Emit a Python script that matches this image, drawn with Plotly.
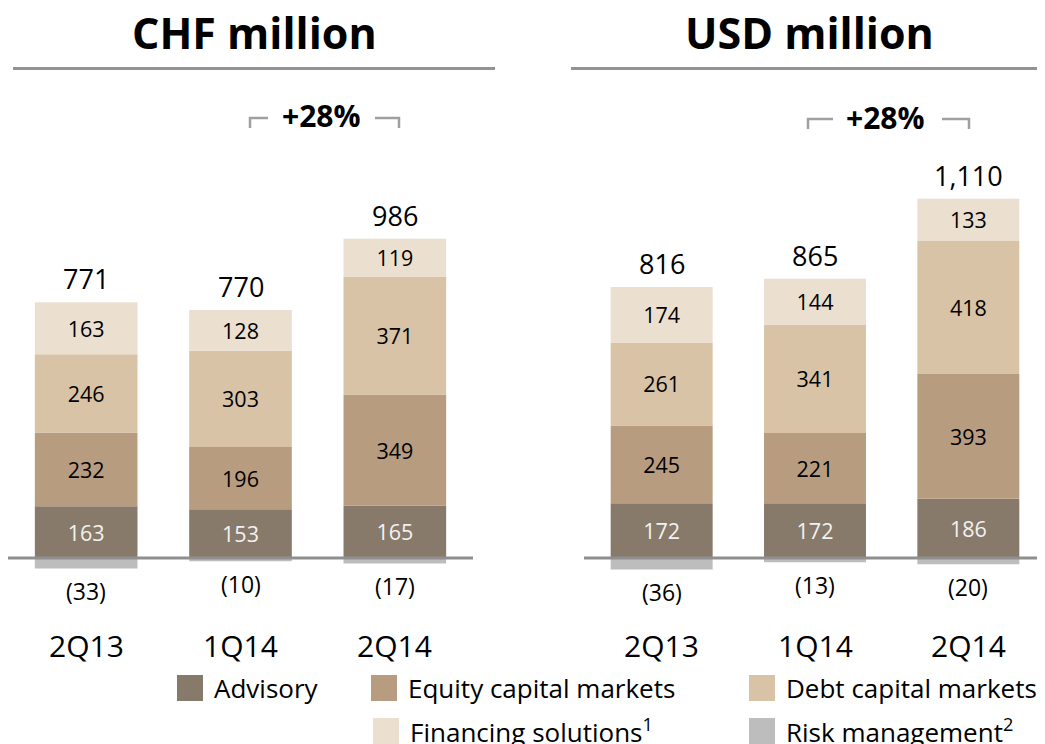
import plotly.graph_objects as go

# page body has an 8px margin: figure placed at (8, 8) in a 1045x744 window
OFF = 8
W, H = 1045 - OFF, 744 - OFF

categories = ["2Q13", "1Q14", "2Q14"]
series_names = ["Advisory", "Equity capital markets", "Debt capital markets",
                "Financing solutions<sup>1</sup>", "Risk management<sup>2</sup>"]
colors = ["#877A6B", "#B89C80", "#D8C3A6", "#EBDFD0", "#BDBDBD"]
text_colors = ["#F2F2F2", "#000000", "#000000", "#000000", "#000000"]

chf_advisory = [163, 153, 165]
chf_equity = [232, 196, 349]
chf_debt = [246, 303, 371]
chf_financing = [163, 128, 119]
chf_risk = [-33, -10, -17]
chf_total = [771, 770, 986]

usd_advisory = [172, 172, 186]
usd_equity = [245, 221, 393]
usd_debt = [261, 341, 418]
usd_financing = [174, 144, 133]
usd_risk = [-36, -13, -20]
usd_total = [816, 865, 1110]

panel_titles = ["CHF million", "USD million"]
growth_label = "+28%"

FONT = "Open Sans"


def px(x):
    return (x - OFF) / W


def py(y):
    return 1 - (y - OFF) / H


fig = go.Figure()

panels = [
    ("x", "y", [chf_advisory, chf_equity, chf_debt, chf_financing, chf_risk], chf_total),
    ("x2", "y2", [usd_advisory, usd_equity, usd_debt, usd_financing, usd_risk], usd_total),
]

for pi, (xa, ya, series, totals) in enumerate(panels):
    for si, vals in enumerate(series):
        if si == 4:
            txt = None
        else:
            txt = [str(v) for v in vals]
        fig.add_trace(go.Bar(
            x=categories, y=vals, name=series_names[si],
            marker=dict(color=colors[si], line=dict(width=0)),
            text=txt, textposition="inside" if txt else "none", insidetextanchor="middle",
            textfont=dict(family=FONT, size=21.5, color=text_colors[si]),
            cliponaxis=False, constraintext="none",
            xaxis=xa, yaxis=ya, showlegend=False, hoverinfo="skip",
        ))
    risk = series[4]
    for ci, cat in enumerate(categories):
        top = sum(s[ci] for s in series[:4])
        # total above bar
        fig.add_annotation(
            x=cat, y=top, xref=xa, yref=ya, text=f"{totals[ci]:,}",
            showarrow=False, yanchor="bottom", yshift=3,
            font=dict(family=FONT, size=27, color="#000000"),
        )
        # risk management value below bar
        fig.add_annotation(
            x=cat, y=risk[ci], xref=xa, yref=ya, text=f"({-risk[ci]})",
            showarrow=False, yanchor="top", yshift=-5,
            font=dict(family=FONT, size=23, color="#000000"),
        )
        # category label
        fig.add_annotation(
            x=cat, y=py(645), xref=xa, yref="paper", text=cat,
            showarrow=False, yanchor="middle",
            font=dict(family=FONT, size=30, color="#000000"),
        )

BASE = 558 - OFF
SCALE = 0.318
yrange = [-(H - BASE) / SCALE, BASE / SCALE]

fig.update_layout(
    width=W, height=H,
    margin=dict(l=0, r=0, t=0, b=0),
    paper_bgcolor="white", plot_bgcolor="white",
    barmode="relative", bargap=0.335,
    xaxis=dict(domain=[px(9), px(472)], range=[-0.5, 2.5], showticklabels=False,
               showgrid=False, zeroline=False, showline=False, ticks=""),
    yaxis=dict(domain=[0, 1], range=yrange, visible=False),
    xaxis2=dict(domain=[px(585), px(1045)], range=[-0.5, 2.5], showticklabels=False,
                showgrid=False, zeroline=False, showline=False, ticks="", anchor="y2"),
    yaxis2=dict(domain=[0, 1], range=yrange, visible=False, anchor="x2"),
    showlegend=False,
)

shapes = []
# baselines
shapes.append(dict(type="line", xref="paper", yref="y", x0=px(8), x1=px(473), y0=0, y1=0,
                   line=dict(color="#8F8F8F", width=3), layer="above"))
shapes.append(dict(type="line", xref="paper", yref="y2", x0=px(584), x1=px(1045), y0=0, y1=0,
                   line=dict(color="#8F8F8F", width=3), layer="above"))
# title rules
shapes.append(dict(type="line", xref="paper", yref="paper", x0=px(13), x1=px(495),
                   y0=py(68.5), y1=py(68.5), line=dict(color="#939393", width=3)))
shapes.append(dict(type="line", xref="paper", yref="paper", x0=px(571), x1=px(1045),
                   y0=py(68.5), y1=py(68.5), line=dict(color="#939393", width=3)))


def bracket(xl0, xl1, xr0, xr1, ytop, ybot):
    return [
        dict(type="path", xref="paper", yref="paper",
             path=f"M {px(xl0)},{py(ybot)} L {px(xl0)},{py(ytop)} L {px(xl1)},{py(ytop)}",
             line=dict(color="#A0A0A0", width=2.5)),
        dict(type="path", xref="paper", yref="paper",
             path=f"M {px(xr0)},{py(ytop)} L {px(xr1)},{py(ytop)} L {px(xr1)},{py(ybot)}",
             line=dict(color="#A0A0A0", width=2.5)),
    ]


shapes += bracket(250, 268, 375, 399, 118, 128)
shapes += bracket(808, 833, 942, 969, 119, 129)

# legend swatches
legend_items = [
    (177, 688, 0), (371, 688, 1), (749, 688, 2),
    (373, 731, 3), (749, 731, 4),
]
for lx, ly, si in legend_items:
    shapes.append(dict(type="rect", xref="paper", yref="paper",
                       x0=px(lx), x1=px(lx + 26), y0=py(ly + 13), y1=py(ly - 13),
                       fillcolor=colors[si], line=dict(width=0)))
    fig.add_annotation(x=px(lx + 35), y=py(ly), xref="paper", yref="paper",
                       text=series_names[si], showarrow=False, xanchor="left", yanchor="middle",
                       font=dict(family=FONT, size=26, color="#000000"))

fig.update_layout(shapes=shapes)

# panel titles
for t, cx in zip(panel_titles, [254, 809]):
    fig.add_annotation(x=px(cx), y=py(32), xref="paper", yref="paper", text=f"<b>{t}</b>",
                       showarrow=False, xanchor="center", yanchor="middle",
                       font=dict(family=FONT, size=43, color="#000000"))

for cx, cy in [(321, 116), (885.5, 117)]:
    fig.add_annotation(x=px(cx), y=py(cy), xref="paper", yref="paper", text=f"<b>{growth_label}</b>",
                       showarrow=False, xanchor="center", yanchor="middle",
                       font=dict(family=FONT, size=30, color="#000000"))

fig.write_html("out.html")
